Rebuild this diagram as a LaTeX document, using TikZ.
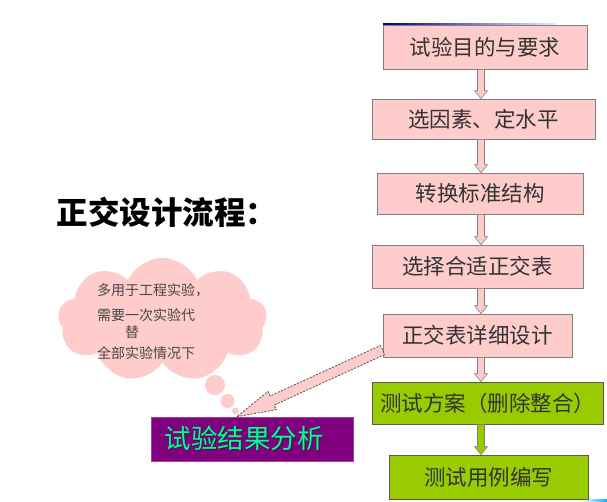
\documentclass[tikz,border=0pt]{standalone}
\usepackage{fontspec}
\newfontfamily\cjk{Noto Sans CJK SC}
\usetikzlibrary{shapes.symbols,calc}
\definecolor{pinkf}{HTML}{FFCCCC}
\definecolor{greenf}{HTML}{99CC00}
\definecolor{purp}{HTML}{800080}
\definecolor{txtg}{HTML}{00FF99}
\definecolor{edgegray}{HTML}{7F7F7F}
\newcommand\flowarrow[3][pinkf]{%
  \draw[blockarrow, fill=#1] let \p1=(#2.south), \p2=(#3.north) in
    (477.5pt,\y1) -- (477.5pt,\y2+8pt) -- (474.5pt,\y2+8pt) -- (481pt,\y2)
    -- (487.5pt,\y2+8pt) -- (484.5pt,\y2+8pt) -- (484.5pt,\y1) -- cycle;}
\begin{document}
\begin{tikzpicture}[x=1pt,y=-1pt,
  flowbox/.style={draw=edgegray, line width=0.8pt, fill=pinkf, inner sep=0pt,
    font=\cjk\fontsize{21.5}{24}\selectfont, text=black!80},
  greenbox/.style={flowbox, fill=greenf, draw=black!65},
  blockarrow/.style={draw=edgegray, line width=0.6pt},
  cloudtext/.style={font=\cjk\fontsize{14}{16}\selectfont, text=black!72, anchor=west, inner sep=0pt},
  bubble/.style={circle, fill=pinkf, inner sep=0pt}]
\useasboundingbox (0,0) rectangle (607,501);
\fill[white] (0,0) rectangle (607,501);
% decorative lines
\shade[left color=blue!55!black, right color=blue!8!white] (383,23) rectangle (557,25);
\shade[left color=white, right color=cyan!70!blue] (582,499) rectangle (607,501);
% title
\node[font=\cjk\bfseries\fontsize{31.5}{34}\selectfont, inner sep=0pt] (title) at (167,212) {正交设计流程：};
% cloud
\node[cloud, cloud puffs=9, cloud puff arc=130, aspect=1.7, fill=pinkf,
  minimum width=209, minimum height=124, inner sep=0pt] (cl) at (162.5,320) {};
\node[bubble, minimum size=20] (bub1) at (215,385) {};
\node[bubble, minimum size=14] (bub2) at (227.5,401) {};
\node[bubble, minimum size=7] (bub3) at (235.5,411) {};
\node[cloudtext] (ct1) at (97,290) {多用于工程实验，};
\node[cloudtext] (ct2) at (97,315) {需要一次实验代};
\node[cloudtext] (ct3) at (125,332) {替};
\node[cloudtext] (ct4) at (97,353) {全部实验情况下};
% flow boxes
\node[flowbox, minimum width=204, minimum height=44] (b1) at (485,47) {试验目的与要求};
\node[flowbox, minimum width=223, minimum height=40] (b2) at (483.5,119) {选因素、定水平};
\node[flowbox, minimum width=206, minimum height=41] (b3) at (480,193.5) {转换标准结构};
\node[flowbox, minimum width=211, minimum height=43] (b4) at (477.5,266.5) {选择合适正交表};
\node[flowbox, minimum width=189, minimum height=43] (b5) at (477.5,335.5) {正交表详细设计};
\node[greenbox, minimum width=231, minimum height=42] (b6) at (487.5,403) {测试方案（删除整合）};
\node[greenbox, minimum width=199, minimum height=44] (b7) at (488.5,477) {测试用例编写};
% result box
\node[fill=purp, draw=purp!75!white, line width=0.6pt, minimum width=202, minimum height=44, inner sep=0pt] (res) at (252,439) {};
\node[font=\cjk\fontsize{26.5}{28}\selectfont, text=black!85, inner sep=0pt] (rshadow) at (245.3,439.3) {试验结果分析};
\node[font=\cjk\fontsize{26.5}{28}\selectfont, text=txtg, inner sep=0pt] (rtxt) at (244,438) {试验结果分析};
% arrows
\flowarrow{b1}{b2}
\flowarrow{b2}{b3}
\flowarrow{b3}{b4}
\flowarrow{b4}{b5}
\flowarrow{b5}{b6}
\flowarrow[greenf]{b6}{b7}
% dashed block arrow
\coordinate (dt) at ($(b5.west)+(0,14.5)$);
\coordinate (dh) at ($(res.north west)+(86,0)$);
\coordinate (db) at ($(dh)!39pt!(dt)$);
\draw[fill=pinkf, draw=black!70, line width=0.8pt, dash pattern=on 2pt off 1.5pt]
  ($(dt)!5pt!90:(dh)$) -- ($(db)!5pt!90:(dh)$) -- ($(db)!10pt!90:(dh)$) -- (dh)
  -- ($(db)!10pt!-90:(dh)$) -- ($(db)!5pt!-90:(dh)$) -- ($(dt)!5pt!-90:(dh)$) -- cycle;
\end{tikzpicture}
\end{document}
